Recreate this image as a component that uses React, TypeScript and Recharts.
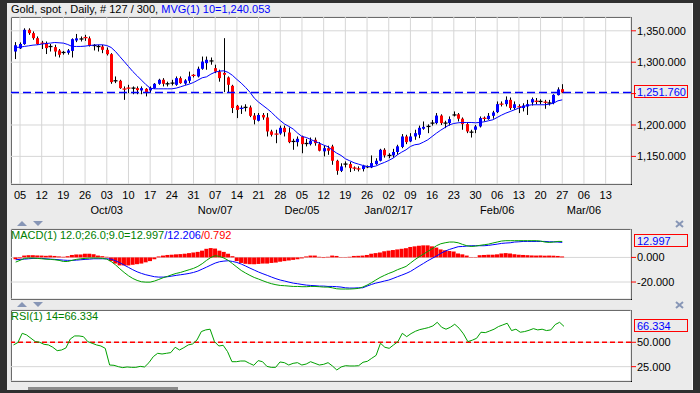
import React from "react";
import { ComposedChart, Bar, Line, XAxis, YAxis, CartesianGrid, ReferenceLine } from "recharts";

// Gold spot, daily candles, one slot per weekday from Fri 2 Sep 2016 to Mon 27 Feb 2017
const opens = [
  1317, 1322, 1328.8, 1351.6, 1346.3, 1338.3, 1330.4, 1330.4, 1325, 1324,
  1318.7, 1315.5, 1315, 1318, 1334.6, 1337, 1339.4, 1338, 1326.6, 1325,
  1325, 1319.7, 1312.8, 1270.4, 1270.4, 1257.4, 1258.9, 1258.7, 1258.7, 1255,
  1257.6, 1255, 1258.7, 1265.6, 1272, 1265.6, 1266.7, 1264, 1274.6, 1266,
  1270.4, 1279.2, 1277.3, 1289.5, 1298.5, 1302, 1290.5, 1285, 1283, 1275.7,
  1262.4, 1230.6, 1226, 1228, 1228, 1215, 1206.7, 1216, 1212, 1189.7,
  1185.7, 1186.5, 1195.5, 1188, 1173.8, 1172.7, 1181.7, 1170.5, 1169.5, 1176.4,
  1169.5, 1158, 1163, 1165.8, 1143, 1127, 1137.7, 1137.7, 1131.5, 1130.2,
  1129.8, 1133.4, 1132.4, 1137.7, 1143, 1160.5, 1151.5, 1151.5, 1157, 1165,
  1181.7, 1173.8, 1181.7, 1184.4, 1194, 1197.7, 1203, 1203, 1215, 1203,
  1203, 1216, 1217, 1210, 1201.4, 1188.6, 1192.4, 1197.7, 1210.8, 1209.3,
  1214.6, 1220.5, 1233.4, 1233.2, 1240, 1227, 1229.5, 1227, 1229.5, 1235.9,
  1238.5, 1237.5, 1237, 1235, 1235, 1247.6, 1257,
];
const highs = [
  1332, 1331.5, 1354, 1354, 1349, 1341, 1334, 1333, 1329, 1327.7,
  1321, 1318, 1321, 1338, 1345, 1341, 1343.6, 1341, 1328.8, 1327.7,
  1327.7, 1323.5, 1314.4, 1277.3, 1272, 1261.4, 1264, 1261.4, 1261.4, 1261.4,
  1258.7, 1261.4, 1266.7, 1273.6, 1274.6, 1269, 1272, 1277.3, 1277.3, 1273,
  1285, 1281, 1293, 1309, 1309, 1307.5, 1296, 1288, 1338.3, 1277.3,
  1264, 1232, 1231, 1233, 1231, 1219, 1219, 1219, 1219, 1192.4,
  1192.4, 1199, 1199, 1196, 1178, 1181.7, 1183, 1178, 1180, 1180,
  1172.7, 1167, 1167, 1168.5, 1144.6, 1139, 1142, 1141, 1134, 1134,
  1136.6, 1135.6, 1151.5, 1147, 1162, 1163, 1155, 1162, 1168.5, 1185.5,
  1184.4, 1187, 1192.4, 1199, 1205.6, 1201, 1208, 1219, 1217, 1206.7,
  1213.6, 1221.6, 1219, 1212, 1203, 1192.4, 1200, 1213.6, 1213.6, 1219,
  1222.6, 1237.5, 1237.5, 1245.5, 1243.8, 1237.5, 1233, 1234.6, 1240, 1243.8,
  1243, 1241, 1240, 1240, 1249, 1260, 1265,
];
const lows = [
  1305, 1321, 1327.7, 1343.6, 1335.7, 1327.7, 1321, 1313, 1317, 1309,
  1307.5, 1312, 1312, 1307.5, 1332, 1333, 1334, 1325, 1318.7, 1317,
  1314.4, 1310.7, 1265.6, 1266.7, 1257.6, 1240, 1250.7, 1249, 1249, 1249,
  1245.5, 1252.3, 1257.6, 1264, 1261.4, 1261.4, 1263, 1262.4, 1265.6, 1264,
  1266.7, 1275.7, 1275.7, 1288, 1288, 1296, 1282.6, 1269, 1252.3, 1252.3,
  1219, 1211, 1217.6, 1221.6, 1212.5, 1201, 1205.6, 1208.3, 1181.7, 1181.7,
  1171, 1184.4, 1181.7, 1171, 1160.5, 1165.8, 1155, 1165.8, 1167.4, 1167,
  1158, 1150, 1152.5, 1136.6, 1120.7, 1125, 1132.4, 1125, 1127, 1126,
  1126, 1131.3, 1131.3, 1136.6, 1142, 1148, 1147, 1148, 1152.5, 1163,
  1169.5, 1172.7, 1176.4, 1179, 1192.4, 1187, 1199, 1201, 1200, 1195,
  1199, 1213.6, 1205.6, 1192.4, 1187, 1180, 1187, 1196, 1205.6, 1208.3,
  1210, 1219, 1229.5, 1229.5, 1224, 1224, 1219, 1221.6, 1216, 1231,
  1233, 1233, 1225.8, 1231, 1233, 1247, 1250.7,
];
const closes = [
  1327, 1329, 1351.6, 1346.3, 1338.3, 1329, 1330, 1322.4, 1325, 1317,
  1311.8, 1315.5, 1318.7, 1336.7, 1338, 1337, 1339, 1326.6, 1326.6, 1325,
  1319.7, 1312.8, 1268.3, 1270.4, 1258.7, 1257, 1258.5, 1258.7, 1255.5, 1258.7,
  1251, 1258.7, 1265.6, 1272, 1265.6, 1265.6, 1266.7, 1274.6, 1266.7, 1271,
  1277.3, 1278.8, 1289.5, 1301, 1303.8, 1302, 1285, 1274.6, 1280, 1264,
  1227, 1224, 1227, 1228, 1214.6, 1208.3, 1216, 1212, 1189.7, 1184.4,
  1185.3, 1195.5, 1188.6, 1172.7, 1173.8, 1178, 1169.5, 1170.5, 1175, 1171,
  1159, 1163, 1159, 1143, 1127, 1134, 1137.7, 1131.3, 1131.1, 1129.8,
  1135, 1133.4, 1139.3, 1143, 1160.5, 1151.5, 1151.5, 1157, 1166, 1181.7,
  1172.7, 1181.7, 1187, 1195.5, 1197, 1197.7, 1203, 1215, 1203, 1203,
  1209.3, 1216, 1210, 1201.4, 1189.7, 1188.6, 1197.7, 1211, 1210.4, 1214.6,
  1220, 1233.2, 1233, 1240, 1227, 1233, 1228.5, 1231, 1233.2, 1241.2,
  1237, 1237.5, 1235.5, 1235, 1248, 1256.6, 1251.76,
];
const mvg10 = [
  1323.5, 1324.0, 1325.1, 1326.1, 1327.2, 1327.7, 1328.8, 1329.8, 1330.4, 1331.4,
  1330.9, 1330.4, 1328.2, 1325.1, 1325.1, 1325.1, 1325.6, 1326.6, 1327.2, 1327.7,
  1327.7, 1326.6, 1323.5, 1317.1, 1309.1, 1301.2, 1293.2, 1285.2, 1278.3, 1271.4,
  1264.5, 1258.7, 1257.6, 1257.6, 1257.6, 1257.6, 1257.6, 1258.7, 1260.8, 1263.0,
  1265.1, 1267.7, 1271.4, 1275.2, 1276.7, 1281.0, 1284.2, 1285.8, 1286.3, 1283.7,
  1278.9, 1272.5, 1266.7, 1259.8, 1252.3, 1242.8, 1236.4, 1231.1, 1225.8, 1220.0,
  1213.1, 1207.0, 1201.4, 1197.7, 1193.4, 1187.0, 1181.7, 1180.1, 1177.0, 1173.8,
  1171.1, 1168.0, 1165.3, 1160.0, 1155.2, 1151.5, 1146.2, 1143.0, 1139.8, 1137.7,
  1135.6, 1134.0, 1133.4, 1134.5, 1137.7, 1140.3, 1143.5, 1147.2, 1152.5, 1156.8,
  1160.5, 1165.8, 1168.5, 1169.5, 1172.7, 1176.4, 1181.7, 1187.0, 1191.8, 1196.1,
  1200.3, 1202.4, 1203.5, 1204.0, 1204.0, 1204.0, 1203.5, 1204.0, 1205.1, 1206.7,
  1208.3, 1212.0, 1215.7, 1218.9, 1221.5, 1224.2, 1226.9, 1229.5, 1231.1, 1232.2,
  1232.2, 1232.2, 1232.2, 1233.2, 1234.8, 1238.5, 1240.053,
];
const macdLine = [
  -3.8, -2.4, -0.8, -0.5, -0.5, -0.8, -1.1, -1.4, -1.6, -1.9,
  -2.4, -3.3, -3.3, -2.4, -1.6, -1.1, -0.8, -0.5, -0.5, -0.5,
  -0.8, -1.4, -3.3, -6.0, -9.2, -12.2, -14.9, -17.1, -18.7, -19.8,
  -20.1, -20.1, -19.2, -17.9, -16.5, -15.4, -14.1, -13.0, -12.2, -11.1,
  -10.0, -8.9, -7.3, -5.1, -2.4, 0.0, 1.4, 0.8, -0.5, -2.4,
  -5.1, -7.9, -10.6, -12.7, -14.6, -16.3, -17.6, -19.0, -20.3, -21.4,
  -22.2, -22.8, -23.0, -23.3, -23.6, -23.6, -23.8, -23.8, -23.6, -23.6,
  -23.8, -24.1, -24.1, -24.7, -25.5, -25.7, -25.7, -25.7, -25.5, -25.2,
  -24.1, -22.5, -20.6, -18.4, -16.3, -14.6, -13.0, -11.7, -10.0, -8.7,
  -7.3, -4.6, -1.9, 0.5, 2.7, 4.9, 7.0, 9.5, 11.1, 11.9,
  12.5, 12.5, 11.9, 10.6, 9.5, 8.9, 9.2, 9.8, 10.3, 10.8,
  11.7, 12.5, 13.3, 13.6, 13.6, 13.6, 13.6, 13.6, 13.6, 13.6,
  13.6, 13.3, 12.5, 12.2, 12.5, 13.0, 12.997,
];
const signalLine = [
  -1.9, -1.6, -1.4, -1.1, -0.8, -0.8, -0.8, -1.1, -1.4, -1.6,
  -1.9, -2.2, -2.4, -2.4, -2.2, -1.9, -1.6, -1.4, -1.1, -1.1,
  -1.1, -1.1, -1.4, -2.7, -4.3, -6.2, -8.1, -10.0, -11.7, -13.0,
  -14.1, -14.9, -15.7, -16.0, -16.0, -15.7, -15.2, -14.6, -14.1, -13.6,
  -13.0, -12.2, -11.1, -9.5, -7.9, -6.2, -4.6, -3.5, -3.0, -2.7,
  -3.3, -4.1, -5.4, -7.0, -8.7, -10.3, -11.9, -13.3, -14.6, -16.0,
  -17.3, -18.4, -19.2, -20.1, -20.9, -21.4, -22.0, -22.5, -22.8, -23.0,
  -23.3, -23.3, -23.6, -23.6, -23.8, -24.1, -24.7, -24.9, -24.9, -24.7,
  -24.7, -23.3, -22.0, -20.9, -20.1, -19.2, -18.4, -17.1, -15.7, -14.4,
  -13.0, -11.4, -9.2, -7.0, -4.9, -2.7, -0.8, 1.1, 3.3, 5.1,
  6.5, 7.6, 8.7, 8.9, 9.2, 9.5, 9.5, 9.5, 9.5, 9.8,
  10.3, 10.8, 11.4, 11.7, 11.9, 12.5, 12.7, 13.0, 13.0, 13.0,
  13.0, 13.0, 13.0, 12.7, 12.7, 12.5, 12.206,
];
const macdHist = [
  -1.5, -0.8, 1.5, 1.8, 1.8, 1.6, 1.5, 1.3, 1.5, 1.2,
  0.8, 0.5, 1.0, 2.0, 2.4, 2.4, 3.0, 3.0, 2.6, 1.5,
  1.0, 0.5, -3.0, -5.0, -6.5, -6.5, -6.5, -6.0, -5.5, -5.0,
  -4.0, -3.0, -1.5, 0.8, 1.5, 2.0, 2.2, 2.5, 2.7, 3.0,
  3.5, 4.0, 4.5, 5.5, 7.0, 7.6, 7.2, 5.5, 4.5, 3.0,
  1.0, -3.0, -4.5, -5.2, -5.5, -5.5, -5.3, -5.0, -5.0, -4.5,
  -4.2, -3.5, -3.0, -2.5, -2.0, -1.5, -0.8, 0.8, 1.5, 1.5,
  0.5, -0.5, 0.5, 1.5, 1.2, 0.3, -0.3, 0.5, 1.2, 1.3,
  1.5, 2.0, 3.0, 3.5, 4.0, 5.0, 5.5, 6.0, 6.5, 7.0,
  7.5, 8.5, 9.0, 9.5, 9.8, 9.8, 9.0, 8.0, 6.5, 5.8,
  5.2, 4.8, 3.2, 2.5, 1.5, 0.3, -0.3, 1.8, 2.0, 2.2,
  2.2, 2.5, 3.2, 3.5, 3.2, 2.6, 2.2, 2.0, 1.8, 1.6,
  1.5, 1.6, 1.4, 1.5, 1.4, 1.2, 0.792,
];
const rsi14 = [
  47.3, 49.7, 59.2, 57.5, 54.1, 50.7, 50.0, 47.9, 47.3, 44.9,
  41.4, 42.1, 44.2, 53.4, 56.5, 56.5, 55.8, 50.7, 49.0, 47.3,
  46.2, 43.8, 26.7, 26.4, 25.0, 24.0, 24.7, 24.3, 24.3, 25.3,
  24.7, 29.1, 35.3, 38.7, 38.0, 38.7, 39.4, 44.9, 42.1, 44.5,
  47.3, 48.3, 52.4, 61.0, 62.7, 63.4, 50.7, 46.2, 46.9, 40.4,
  30.1, 30.1, 30.8, 30.8, 28.4, 26.4, 31.2, 30.1, 25.3, 24.3,
  24.3, 29.8, 29.1, 26.7, 28.4, 29.1, 26.7, 27.7, 30.1, 28.4,
  26.7, 27.4, 29.1, 25.7, 21.6, 24.7, 26.0, 25.7, 25.7, 26.0,
  29.5, 30.5, 33.6, 36.6, 49.0, 44.9, 43.8, 47.3, 50.7, 59.2,
  55.8, 58.9, 61.3, 63.0, 64.0, 65.1, 66.8, 70.5, 65.4, 63.4,
  65.4, 68.5, 64.4, 58.6, 50.7, 52.1, 54.1, 60.3, 59.9, 61.6,
  63.4, 66.1, 67.8, 69.5, 62.0, 63.4, 60.3, 61.0, 62.3, 64.0,
  62.7, 63.4, 62.0, 62.7, 68.2, 70.5, 66.334,
];

// Monday tick labels, one per week, starting Mon 5 Sep 2016 (slot 1)
const weekLabels = [
  "05", "12", "19", "26", "03", "10", "17", "24", "31", "07", "14", "21", "28", "05",
  "12", "19", "26", "02", "09", "16", "23", "30", "06", "13", "20", "27", "06", "13",
];
const monthLabels = ["Oct/03", "Nov/07", "Dec/05", "Jan/02/17", "Feb/06", "Mar/06"];
const monthWeek = [4, 9, 13, 17, 22, 26];

const priceTicks = [1150, 1200, 1250, 1300, 1350];
const macdTicks = [-20, 0];
const rsiTicks = [25, 50];

const SLOTS = 142;
const tickSlots = weekLabels.map((_, k) => 1 + k * 5);

const rows = Array.from({ length: SLOTS }, (_, s) => {
  const has = s < closes.length;
  return {
    s,
    range: has ? [lows[s], highs[s]] : null,
    o: has ? opens[s] : null,
    h: has ? highs[s] : null,
    l: has ? lows[s] : null,
    c: has ? closes[s] : null,
    mvg: has ? mvg10[s] : null,
    macd: has ? macdLine[s] : null,
    signal: has ? signalLine[s] : null,
    hist: has ? macdHist[s] : null,
    rsi: has ? rsi14[s] : null,
  };
});

const last = closes.length - 1;
const FONT = '"Liberation Sans", Arial, sans-serif';
const BLUE = "#0000ff";
const RED = "#ff0000";
const GREEN = "#00a000";
const GRID = "#d6d6d6";
const BG = "#ebebeb";

const fmt = (v: number) =>
  v.toLocaleString("en-US", { minimumFractionDigits: 3, maximumFractionDigits: 3 });

const xPad = { left: 2.5, right: 1.5 };
const chartMargin = (top: number, bottom: number) => ({ top, right: 7, bottom, left: 11 });

function Candle(props: any) {
  const { x, y, width, height, payload } = props;
  if (payload == null || payload.o == null) return null;
  const { o, h, l, c } = payload;
  const top = Math.min(y, y + height);
  const span = Math.abs(height);
  const py = (v: number) => top + ((h - v) / (h - l || 1)) * span;
  const cx = Math.round(x + width / 2 - 0.5) + 0.5;
  const bTop = py(Math.max(o, c));
  const bBot = py(Math.min(o, c));
  const color = c > o ? BLUE : c < o ? RED : "#000000";
  return (
    <g>
      <line x1={cx} x2={cx} y1={top} y2={top + span} stroke="#000" strokeWidth={1} />
      {bBot - bTop < 1.2 ? (
        <line x1={cx - 2} x2={cx + 2} y1={(bTop + bBot) / 2} y2={(bTop + bBot) / 2} stroke={color} strokeWidth={1.3} />
      ) : (
        <rect x={cx - 1.5} y={bTop} width={3} height={bBot - bTop} fill={color} />
      )}
    </g>
  );
}

function DayTick({ x, y, payload }: any) {
  const k = tickSlots.indexOf(payload.value);
  const m = monthWeek.indexOf(k);
  return (
    <g>
      <text x={x} y={y + 15} textAnchor="middle" fontSize={11} fontFamily={FONT} fill="#000">
        {weekLabels[k]}
      </text>
      {m >= 0 && (
        <text x={x} y={y + 30} textAnchor="middle" fontSize={11} fontFamily={FONT} fill="#000">
          {monthLabels[m]}
        </text>
      )}
    </g>
  );
}

const makeValueTick = (skip?: number) => (p: any) =>
  p.payload.value === skip ? (
    <g />
  ) : (
    <text x={p.x + 1} y={p.y + 4} fontSize={11} fontFamily={FONT} fill="#000">
      {fmt(p.payload.value)}
    </text>
  );

function ValueBox({ viewBox, text }: any) {
  if (!viewBox) return null;
  const x = viewBox.x + viewBox.width + 3;
  const y = viewBox.y;
  return (
    <g>
      <rect x={x + 0.5} y={Math.round(y) - 6.5} width={53} height={12} fill={BG} stroke={RED} strokeWidth={1} />
      <text x={x + 3} y={y + 4} fontSize={11} fontFamily={FONT} fill={BLUE}>
        {text}
      </text>
    </g>
  );
}

const frame = (top: number, height: number): React.CSSProperties => ({
  position: "absolute",
  left: 11,
  top,
  width: 621,
  height,
  boxSizing: "border-box",
  border: "1px solid #000",
  background: "#fff",
});

const headStyle = (top: number): React.CSSProperties => ({
  position: "absolute",
  left: 11,
  top,
  font: `11px ${FONT}`,
  lineHeight: "13px",
  whiteSpace: "nowrap",
});

function Arrows({ y }: { y: number }) {
  return (
    <g fill="#8796b6">
      <polygon points={`17,${y + 5} 22,${y} 27,${y + 5}`} />
      <polygon points={`33,${y} 43,${y} 38,${y + 5}`} />
      <g stroke="#8796b6" strokeWidth={2}>
        <line x1={676} y1={y} x2={683} y2={y + 6} />
        <line x1={683} y1={y} x2={676} y2={y + 6} />
      </g>
    </g>
  );
}

export default function App() {
  return (
    <div style={{ position: "absolute", left: 0, top: 0, width: 700, height: 393, background: "#2f2f2f", overflow: "hidden" }}>
      <div style={{ position: "absolute", left: 7, top: 3, width: 686, height: 387, background: BG, borderRight: "1px solid #fafafa", boxSizing: "border-box" }} />

      <div style={headStyle(3)}>
        <span style={{ color: "#000" }}>{`Gold, spot , Daily, # ${closes.length} / 300, `}</span>
        <span style={{ color: BLUE }}>{`MVG(1) 10=${fmt(mvg10[last])}`}</span>
      </div>

      {/* price panel */}
      <div style={frame(17, 168)} />
      <div style={{ position: "absolute", left: 0, top: 0 }}>
        <ComposedChart width={700} height={225} data={rows} margin={chartMargin(17, 5)}>
          <CartesianGrid stroke={GRID} />
          <XAxis
            dataKey="s"
            type="category"
            ticks={tickSlots}
            interval={0}
            padding={xPad}
            axisLine={false}
            tickLine={false}
            tickSize={0}
            tickMargin={0}
            height={36}
            tick={(p: any) => <DayTick {...p} />}
          />
          <YAxis
            orientation="right"
            domain={[1106, 1372]}
            ticks={priceTicks}
            interval={0}
            width={62}
            axisLine={false}
            tickLine={{ stroke: RED }}
            tickSize={5}
            tickMargin={0}
            tick={makeValueTick(1250)}
          />
          <ReferenceLine
            y={closes[last]}
            stroke={BLUE}
            strokeWidth={1.5}
            strokeDasharray="8 4"
            label={<ValueBox text={fmt(closes[last])} />}
          />
          <Bar dataKey="range" barSize={3} shape={<Candle />} isAnimationActive={false} />
          <Line dataKey="mvg" stroke={BLUE} strokeWidth={1} dot={false} activeDot={false} isAnimationActive={false} />
        </ComposedChart>
      </div>

      {/* MACD panel */}
      <div style={frame(229, 71)} />
      <div style={{ position: "absolute", left: 0, top: 225 }}>
        <ComposedChart width={700} height={80} data={rows} margin={chartMargin(4, 5)} barCategoryGap={0} barGap={0}>
          <CartesianGrid stroke={GRID} />
          <XAxis dataKey="s" type="category" ticks={tickSlots} interval={0} padding={xPad} axisLine={false} tickLine={false} tick={false} height={1} />
          <YAxis
            orientation="right"
            domain={[-33.8, 23.1]}
            ticks={macdTicks}
            interval={0}
            width={62}
            axisLine={false}
            tickLine={{ stroke: RED }}
            tickSize={5}
            tickMargin={0}
            tick={makeValueTick()}
          />
          <Bar dataKey="hist" fill={RED} isAnimationActive={false} />
          <Line dataKey="signal" stroke={BLUE} strokeWidth={1} dot={false} activeDot={false} isAnimationActive={false} />
          <Line dataKey="macd" stroke={GREEN} strokeWidth={1} dot={false} activeDot={false} isAnimationActive={false} />
          <ReferenceLine y={macdLine[last]} stroke="none" label={<ValueBox text={fmt(macdLine[last])} />} />
        </ComposedChart>
      </div>
      <div style={headStyle(229)}>
        <span style={{ color: "#008000" }}>{`MACD(1) 12.0;26.0;9.0=${fmt(macdLine[last])}`}</span>
        <span style={{ color: BLUE }}>{`/${fmt(signalLine[last])}`}</span>
        <span style={{ color: RED }}>{`/${fmt(macdHist[last])}`}</span>
      </div>

      {/* RSI panel */}
      <div style={frame(310, 72)} />
      <div style={{ position: "absolute", left: 0, top: 306 }}>
        <ComposedChart width={700} height={82} data={rows} margin={chartMargin(4, 6)}>
          <CartesianGrid stroke={GRID} />
          <XAxis dataKey="s" type="category" ticks={tickSlots} interval={0} padding={xPad} axisLine={false} tickLine={false} tick={false} height={1} />
          <YAxis
            orientation="right"
            domain={[10.3, 83.1]}
            ticks={rsiTicks}
            interval={0}
            width={62}
            axisLine={false}
            tickLine={{ stroke: RED }}
            tickSize={5}
            tickMargin={0}
            tick={makeValueTick()}
          />
          <ReferenceLine y={50} stroke={RED} strokeWidth={1.5} strokeDasharray="5 3" />
          <Line dataKey="rsi" stroke={GREEN} strokeWidth={1} dot={false} activeDot={false} isAnimationActive={false} />
          <ReferenceLine y={rsi14[last]} stroke="none" label={<ValueBox text={fmt(rsi14[last])} />} />
        </ComposedChart>
      </div>
      <div style={headStyle(310)}>
        <span style={{ color: "#008000" }}>{`RSI(1) 14=${fmt(rsi14[last])}`}</span>
      </div>

      <svg width={700} height={393} style={{ position: "absolute", left: 0, top: 0, pointerEvents: "none" }}>
        <Arrows y={221} />
        <Arrows y={302} />
        <rect x={28} y={387} width={150} height={3} fill="#8a8a8a" />
      </svg>
    </div>
  );
}
